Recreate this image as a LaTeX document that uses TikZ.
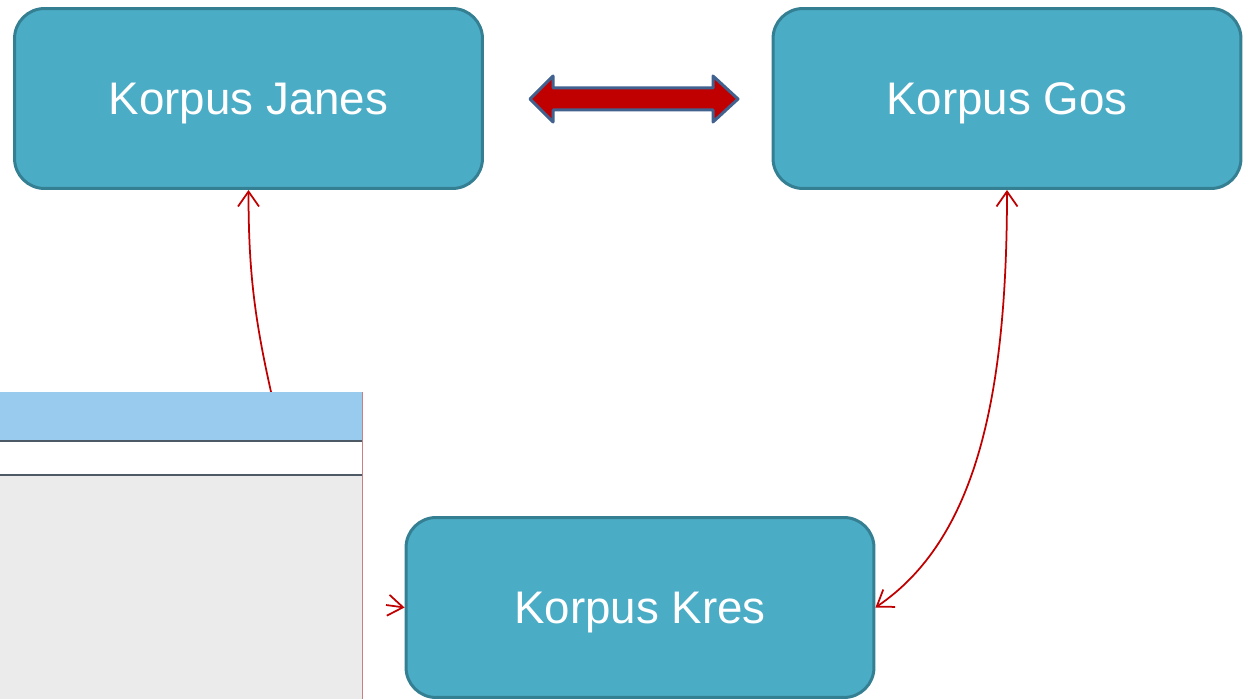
\documentclass[tikz,border=0pt]{standalone}
\usepackage{fontspec}
\setmainfont{Liberation Sans}
\usetikzlibrary{arrows.meta}
\definecolor{korpusfill}{HTML}{4BACC6}
\definecolor{korpusline}{HTML}{357F93}
\definecolor{linkred}{HTML}{C00000}
\definecolor{linkblue}{HTML}{41618E}
\definecolor{winhead}{HTML}{99CBEE}
\definecolor{winbody}{HTML}{EBEBEB}
\definecolor{winrule}{HTML}{4D5A66}
\definecolor{winedge}{HTML}{C98080}
\tikzset{
	korpus/.style={draw=korpusline, fill=korpusfill, line width=0.06cm, rounded corners=0.6cm,
		minimum width=9.36cm, minimum height=3.6cm, text=white, font=\fontsize{26}{31}\selectfont,
		text height=0.82cm, text depth=0.19cm},
	redlink/.style={draw=linkred, line width=0.035cm},
	redtip/.tip={Straight Barb[length=0.3cm,width=0.42cm]},
}

\begin{document}
\begin{tikzpicture}[x=0.02cm, y=-0.02cm]
			%%%%% START %%%%%
			\useasboundingbox (0, 0) rectangle (1244, 699);
			
			\node[korpus] (janes) at (248.5, 98.5) {Korpus Janes};
			\node[korpus] (gos) at (1007, 98.5) {Korpus Gos};
			\node[korpus] (kres) at (640, 607.5) {Korpus Kres};
			
			% double arrow between the top boxes
			\draw[line width=0.06cm, draw=linkblue, fill=linkred, line join=round]
				(530, 99) -- (553, 76) -- (553, 88) -- (713, 88) -- (713, 76) -- (738, 99)
				-- (713, 122) -- (713, 110) -- (553, 110) -- (553, 122) -- cycle;
			
			\coordinate (janesfrom) at (274, 405);
			\coordinate (kresfrom) at (386, 605);
			\draw[redlink, redtip-redtip] (gos.south) .. controls (1007, 400) and (975, 540) .. (kres.east);
			\draw[redlink, -redtip] (janesfrom) to[out=103, in=-90] (janes.south);
			\draw[redlink, -redtip] (kresfrom) -- (kres.west);
			
			% window
			\fill[winbody] (0, 475) rectangle (362, 699);
			\fill[white] (0, 441) rectangle (362, 475);
			\fill[winhead] (0, 392) rectangle (362, 440);
			\draw[winrule, line width=0.04cm] (0, 440.5) -- (362, 440.5);
			\draw[winrule, line width=0.03cm] (0, 475) -- (362, 475);
			\draw[winedge, line width=0.03cm] (362.5, 392) -- (362.5, 699);
			
			%%%%% END %%%%%
\end{tikzpicture}
\end{document}
